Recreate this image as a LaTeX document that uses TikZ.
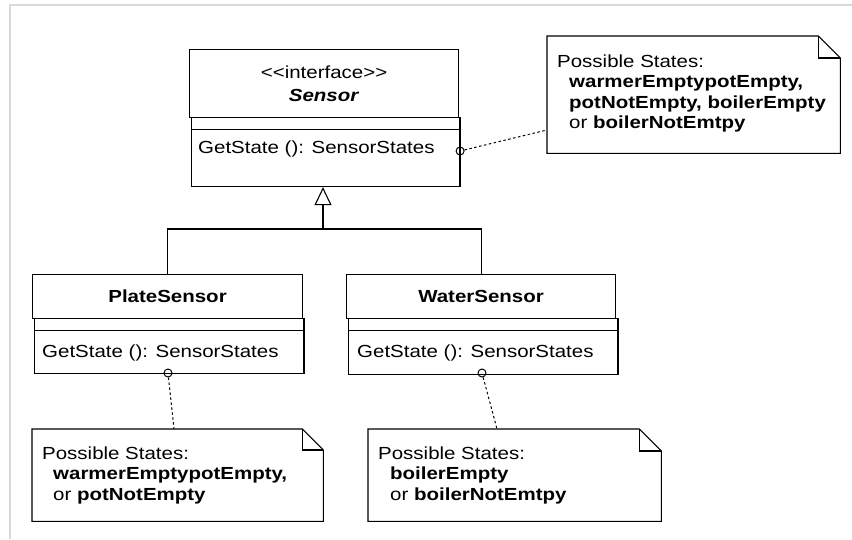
\documentclass[tikz,border=0pt]{standalone}
\usepackage{fontspec}
\newfontfamily\uifont{Liberation Sans}[FakeStretch=1.17]
\usetikzlibrary{arrows.meta}

\newcommand\umlfont{\uifont\fontsize{17.5}{20.5}\selectfont}

% note outline with a folded top-right corner
\newcommand\umlnote[2]{%
  \draw[umlline, fill=white] (#1.north west) -- ([xshift=-#2]#1.north east)
    -- ([yshift=-#2]#1.north east) -- (#1.south east) -- (#1.south west) -- cycle;
  \draw[umlline] ([xshift=-#2]#1.north east) -- ([xshift=-#2,yshift=-#2]#1.north east)
    -- ([yshift=-#2]#1.north east);
}

\tikzset{
  umlline/.style={draw=black, line width=1.1pt},
  headbox/.style={umlline, fill=white, inner sep=0pt, anchor=north west,
    align=center, font=\uifont\fontsize{17.5}{22.5}\selectfont},
  compbox/.style={umlline, fill=white, inner sep=0pt, anchor=north west},
  optext/.style={inner sep=0pt, anchor=base west, font=\umlfont},
  shadowedge/.style={draw=black, line width=2.6pt},
  port/.style={circle, draw=black, line width=1pt, inner sep=0pt, minimum size=8pt},
  noteline/.style={draw=black, line width=1pt, dash pattern=on 2.5pt off 2.5pt},
  notebox/.style={inner sep=0pt, anchor=north west},
  notetext/.style={inner sep=0pt, anchor=base west, font=\umlfont},
  framerule/.style={draw=black!15, line width=2pt},
  gen/.style={umlline, -{Triangle[open, length=18pt, width=17pt, line width=1.1pt]}},
}

\begin{document}
\begin{tikzpicture}[x=1pt, y=-1pt]
\useasboundingbox (0,0) rectangle (852,539);

% outer frame
\draw[framerule] (9.5,539) -- (9.5,5) -- (852,5);

% interface Sensor
\node[headbox, minimum width=269pt, minimum height=68pt] (sensorHead) at (189,49)
  {<<interface>>\\\textbf{\textit{Sensor}}};
\node[compbox, minimum width=268pt, minimum height=12pt] (sensorAttr) at (191,117) {};
\node[compbox, minimum width=268pt, minimum height=57pt] (sensorOps) at (191,129) {};
\draw[shadowedge] (sensorAttr.north east) -- (sensorOps.south east);
\node[optext] (sensorOp) at (198,153) {GetState (): SensorStates};

% class PlateSensor
\node[headbox, minimum width=270pt, minimum height=44pt] (plateHead) at (32,274)
  {\textbf{PlateSensor}};
\node[compbox, minimum width=269pt, minimum height=12pt] (plateAttr) at (34,318) {};
\node[compbox, minimum width=269pt, minimum height=43pt] (plateOps) at (34,330) {};
\draw[shadowedge] (plateAttr.north east) -- (plateOps.south east);
\node[optext] (plateOp) at (42,357) {GetState (): SensorStates};

% class WaterSensor
\node[headbox, minimum width=269pt, minimum height=44pt] (waterHead) at (346,274)
  {\textbf{WaterSensor}};
\node[compbox, minimum width=269pt, minimum height=12pt] (waterAttr) at (348,318) {};
\node[compbox, minimum width=269pt, minimum height=44pt] (waterOps) at (348,330) {};
\draw[shadowedge] (waterAttr.north east) -- (waterOps.south east);
\node[optext] (waterOp) at (357,357) {GetState (): SensorStates};

% generalization
\coordinate (genJoin) at (323,229);
\draw[umlline] (plateHead.north) |- (genJoin) -| (waterHead.north);
\draw[gen] (genJoin) -- (genJoin |- sensorOps.south);

% notes
\node[notebox, minimum width=293pt, minimum height=117pt] (noteSensor) at (547,36) {};
\umlnote{noteSensor}{22pt}
\node[notetext] (noteSensorText) at (557,67) {\begin{tabular}[t]{@{}l@{}}
Possible States:\\
\hspace*{12pt}\textbf{warmerEmptypotEmpty,}\\
\hspace*{12pt}\textbf{potNotEmpty, boilerEmpty}\\
\hspace*{12pt}or \textbf{boilerNotEmtpy}
\end{tabular}};

\node[notebox, minimum width=291pt, minimum height=92pt] (notePlate) at (32,429) {};
\umlnote{notePlate}{21pt}
\node[notetext] (notePlateText) at (42,459) {\begin{tabular}[t]{@{}l@{}}
Possible States:\\
\hspace*{11pt}\textbf{warmerEmptypotEmpty,}\\
\hspace*{11pt}or \textbf{potNotEmpty}
\end{tabular}};

\node[notebox, minimum width=293pt, minimum height=92pt] (noteWater) at (368,429) {};
\umlnote{noteWater}{22pt}
\node[notetext] (noteWaterText) at (378,459) {\begin{tabular}[t]{@{}l@{}}
Possible States:\\
\hspace*{12pt}\textbf{boilerEmpty}\\
\hspace*{12pt}or \textbf{boilerNotEmtpy}
\end{tabular}};

% note attachments
\node[port] (sensorPort) at (sensorOps.east |- 0,151) {};
\node[port] (platePort) at (168,373) {};
\node[port] (waterPort) at (482,373) {};
\draw[noteline] (sensorPort) -- ([yshift=-94pt]noteSensor.north west);
\draw[noteline] (platePort) -- ([xshift=142pt]notePlate.north west);
\draw[noteline] (waterPort) -- ([xshift=129pt]noteWater.north west);
\end{tikzpicture}
\end{document}
